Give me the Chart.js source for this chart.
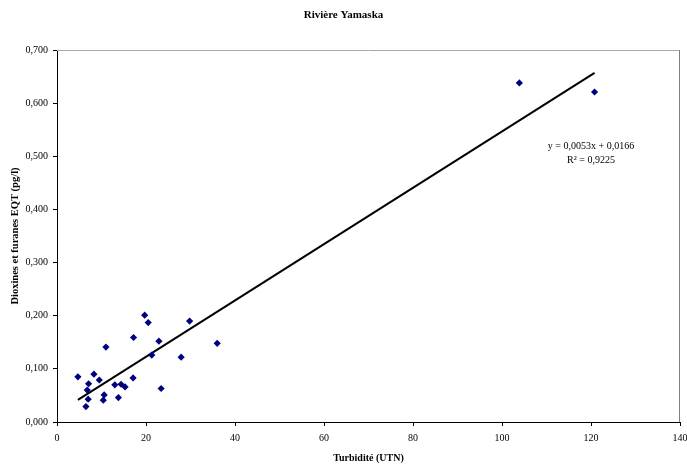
<!DOCTYPE html>
<html>
<head>
<meta charset="utf-8">
<script src="https://cdn.jsdelivr.net/npm/chart.js@4/dist/chart.umd.min.js"></script>
<style>
html,body{margin:0;padding:0;background:#fff;}
#wrap{width:687px;height:466px;}
</style>
</head>
<body>
<div id="wrap"><canvas id="c" width="687" height="466"></canvas></div>
<script>
const titleText = "Rivière Yamaska";
const xTitle = "Turbidité (UTN)";
const yTitle = "Dioxines et furanes EQT (pg/l)";
const turbidite = [4.7, 6.5, 7.0, 6.8, 7.1, 8.3, 9.5, 10.4, 10.6, 11.0, 13.0, 13.8, 14.4, 15.3, 17.1, 17.2, 19.7, 20.5, 21.3, 22.9, 23.4, 27.9, 29.8, 36.0, 103.9, 120.8];
const dioxines = [0.085, 0.029, 0.043, 0.060, 0.072, 0.090, 0.079, 0.041, 0.051, 0.141, 0.070, 0.046, 0.071, 0.066, 0.083, 0.159, 0.201, 0.187, 0.126, 0.152, 0.063, 0.122, 0.190, 0.148, 0.638, 0.621];
const slope = 0.0053;
const intercept = 0.0166;
const equationLines = ["y = 0,0053x + 0,0166", "R² = 0,9225"];
const xTicks = {min: 0, max: 140, step: 20};
const yTicks = {min: 0, max: 0.7, step: 0.1};

const points = turbidite.map((x, i) => ({x: x, y: dioxines[i]}));
const xMin = Math.min(...turbidite), xMax = Math.max(...turbidite);
const trend = [{x: xMin, y: slope * xMin + intercept}, {x: xMax, y: slope * xMax + intercept}];

const FONT = "'Liberation Serif', 'Times New Roman', serif";
Chart.defaults.font.family = FONT;
Chart.defaults.color = '#000';

const framePlugin = {
  id: 'frame',
  afterDraw(chart) {
    const {ctx, chartArea: a, scales} = chart;
    ctx.save();
    ctx.lineWidth = 1;
    ctx.strokeStyle = '#a8a8a8';
    ctx.beginPath();
    ctx.moveTo(a.left, a.top + 0.5);
    ctx.lineTo(a.right, a.top + 0.5);
    ctx.stroke();
    ctx.strokeStyle = '#808080';
    ctx.beginPath();
    ctx.moveTo(a.right - 0.5, a.top);
    ctx.lineTo(a.right - 0.5, a.bottom);
    ctx.stroke();
    // equation text
    ctx.fillStyle = '#000';
    ctx.font = '10px ' + FONT;
    ctx.textAlign = 'center';
    ctx.textBaseline = 'middle';
    const xc = scales.x.getPixelForValue(120);
    ctx.fillText(equationLines[0], xc, scales.y.getPixelForValue(0.518));
    ctx.fillText(equationLines[1], xc, scales.y.getPixelForValue(0.492));
    ctx.restore();
  }
};

new Chart(document.getElementById('c'), {
  type: 'scatter',
  data: {
    datasets: [
      {
        type: 'line',
        data: trend,
        borderColor: '#000',
        borderWidth: 2,
        pointRadius: 0,
        fill: false,
        order: 2
      },
      {
        data: points,
        pointStyle: 'rectRot',
        pointRadius: 3.6,
        backgroundColor: '#000080',
        borderColor: '#000080',
        borderWidth: 0,
        order: 1
      }
    ]
  },
  options: {
    responsive: false,
    animation: false,
    devicePixelRatio: 1,
    layout: {padding: {left: 0, right: 0, top: 0, bottom: 0}},
    plugins: {
      legend: {display: false},
      tooltip: {enabled: false},
      title: {
        display: true,
        text: titleText,
        font: {size: 11, weight: 'bold', family: FONT},
        padding: {top: 9, bottom: 27.8}
      }
    },
    scales: {
      x: {
        type: 'linear',
        min: xTicks.min, max: xTicks.max,
        ticks: {stepSize: xTicks.step, font: {size: 10}, padding: 6, maxRotation: 0},
        grid: {display: true, drawOnChartArea: false, tickLength: 4, color: '#000'},
        border: {display: true, color: '#000', width: 1},
        title: {display: true, text: xTitle, font: {size: 10, weight: 'bold'}, padding: {top: 4, bottom: 2}},
        afterFit(s) { s.height = 44; s.paddingRight = 7; }
      },
      y: {
        type: 'linear',
        min: yTicks.min, max: yTicks.max,
        ticks: {stepSize: yTicks.step, font: {size: 10}, padding: 5,
          callback: v => v.toFixed(3).replace('.', ',')},
        grid: {display: true, drawOnChartArea: false, tickLength: 4, color: '#000'},
        border: {display: true, color: '#000', width: 1},
        title: {display: true, text: yTitle, font: {size: 10.5, weight: 'bold'}, padding: {top: 9, bottom: 0}},
        afterFit(s) { s.width = 57; }
      }
    }
  },
  plugins: [framePlugin]
});
</script>
</body>
</html>
